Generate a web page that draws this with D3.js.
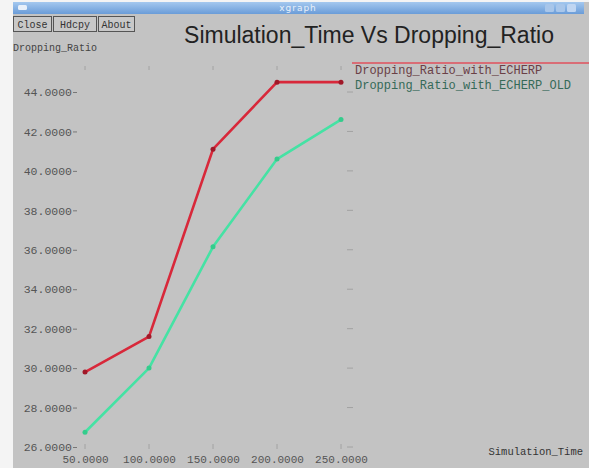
<!DOCTYPE html>
<html>
<head>
<meta charset="utf-8">
<script src="https://cdn.jsdelivr.net/npm/d3@7"></script>
<style>
  html, body { margin: 0; padding: 0; background: #f4f4f4; }
  svg { display: block; }
</style>
</head>
<body>
<script>
// Simulation time (x) and dropping ratio (y) for the two protocols
const simulationTimes = [50, 100, 150, 200, 250];
const ratioEcherp     = [29.8, 31.6, 41.1, 44.5, 44.5];
const ratioEcherpOld  = [26.75, 30.0, 36.15, 40.6, 42.6];
const seriesNames = ["Dropping_Ratio_with_ECHERP", "Dropping_Ratio_with_ECHERP_OLD"];
const seriesColors = ["#d8283a", "#45e2a4"];
const yTickValues = [26, 28, 30, 32, 34, 36, 38, 40, 42, 44];
const xTickValues = [50, 100, 150, 200, 250];
const buttonLabels = ["Close", "Hdcpy", "About"];

const W = 589, H = 468;
const MONO = "Liberation Mono";
const svg = d3.select("body").append("svg").attr("width", W).attr("height", H);

// window frame
svg.append("rect").attr("x", 13).attr("y", 2).attr("width", W - 13).attr("height", H - 2)
  .attr("fill", "#c3c3c3");
const grad = svg.append("defs").append("linearGradient").attr("id", "tb")
  .attr("x1", 0).attr("y1", 0).attr("x2", 0).attr("y2", 1);
grad.append("stop").attr("offset", 0).attr("stop-color", "#a4c8ef");
grad.append("stop").attr("offset", 1).attr("stop-color", "#6a9cd8");
svg.append("rect").attr("x", 13).attr("y", 2).attr("width", 571).attr("height", 12)
  .attr("fill", "url(#tb)");
svg.append("text").attr("x", 298).attr("y", 11).attr("text-anchor", "middle")
  .attr("font-family", "DejaVu Sans").attr("font-size", 9).attr("letter-spacing", 1)
  .attr("fill", "#e8f0fa").text("xgraph");
svg.append("rect").attr("x", 18).attr("y", 5).attr("width", 9).attr("height", 5).attr("rx", 1.5)
  .attr("fill", "#e8f0fa");
[549, 560, 571].forEach((bx, i) => {
  svg.append("rect").attr("x", bx - 4).attr("y", 4).attr("width", 9).attr("height", 8).attr("rx", 1.5)
    .attr("fill", i === 2 ? "#c0d6f2" : "#a8c6ea");
});

// buttons
const btnX = [13, 53, 98], btnW = [38, 43, 36];
buttonLabels.forEach((b, i) => {
  svg.append("rect").attr("x", btnX[i] + 0.5).attr("y", 16.5).attr("width", btnW[i]).attr("height", 15)
    .attr("fill", "#c8c8c8").attr("stroke", "#555").attr("stroke-width", 1);
  svg.append("text").attr("x", btnX[i] + btnW[i] / 2 + 0.5).attr("y", 28)
    .attr("text-anchor", "middle").attr("font-family", MONO).attr("font-size", 10)
    .attr("fill", "#333").text(b);
});

// title and axis names
svg.append("text").attr("x", 369).attr("y", 43).attr("text-anchor", "middle")
  .attr("font-family", "Liberation Sans").attr("font-size", 23).attr("fill", "#222")
  .text("Simulation_Time Vs Dropping_Ratio");
svg.append("text").attr("x", 13).attr("y", 51)
  .attr("font-family", MONO).attr("font-size", 10).attr("fill", "#444")
  .text("Dropping_Ratio");
svg.append("text").attr("x", 583).attr("y", 455).attr("text-anchor", "end")
  .attr("font-family", MONO).attr("font-size", 10.5).attr("fill", "#333")
  .text("Simulation_Time");

// scales
const x = d3.scaleLinear().domain([50, 250]).range([85, 341]);
const y = d3.scaleLinear().domain([26, 44]).range([447, 92]);

// y axis: labels with a trailing dash
const yAxis = svg.append("g").attr("transform", "translate(77,0)")
  .call(d3.axisLeft(y).tickValues(yTickValues).tickSize(4).tickPadding(1)
    .tickFormat(d3.format(".4f")));
yAxis.select(".domain").remove();
yAxis.selectAll("line").attr("stroke", "#777");
yAxis.selectAll("text").attr("font-family", MONO).attr("font-size", 11.5)
  .attr("fill", "#555");

// x axis labels
const xAxis = svg.append("g").attr("transform", "translate(0,453)")
  .call(d3.axisBottom(x).tickValues(xTickValues).tickSize(0).tickPadding(2)
    .tickFormat(d3.format(".4f")));
xAxis.select(".domain").remove();
xAxis.selectAll("text").attr("font-family", MONO).attr("font-size", 11)
  .attr("fill", "#555");

// faint tick marks along the top, bottom and right edge of the plot
svg.append("g").selectAll("line").data(xTickValues).join("line")
  .attr("x1", d => x(d)).attr("x2", d => x(d)).attr("y1", 66).attr("y2", 70)
  .attr("stroke", "#a2a2a2").attr("stroke-width", 1);
svg.append("g").selectAll("line").data(xTickValues).join("line")
  .attr("x1", d => x(d)).attr("x2", d => x(d)).attr("y1", 444).attr("y2", 449)
  .attr("stroke", "#a2a2a2").attr("stroke-width", 1);
svg.append("g").selectAll("line").data(yTickValues).join("line")
  .attr("x1", 347).attr("x2", 353).attr("y1", d => y(d)).attr("y2", d => y(d))
  .attr("stroke", "#a2a2a2").attr("stroke-width", 1);

// series lines and markers
const series = [ratioEcherp, ratioEcherpOld];
const line = d3.line().x((d, i) => x(simulationTimes[i])).y(d => y(d));
series.forEach((vals, s) => {
  svg.append("path").datum(vals).attr("d", line).attr("fill", "none")
    .attr("stroke", seriesColors[s]).attr("stroke-width", 2.6).attr("stroke-linejoin", "round");
  svg.append("g").selectAll("circle").data(vals).join("circle")
    .attr("cx", (d, i) => x(simulationTimes[i])).attr("cy", d => y(d)).attr("r", 2.5)
    .attr("fill", s === 0 ? "#a01828" : "#34cc8c");
});

// legend
svg.append("line").attr("x1", 352).attr("x2", 589).attr("y1", 63).attr("y2", 63)
  .attr("stroke", "#e0505c").attr("stroke-width", 1.5);
seriesNames.forEach((n, i) => {
  svg.append("text").attr("x", 355).attr("y", 74 + i * 15)
    .attr("font-family", MONO).attr("font-size", 12)
    .attr("fill", i === 0 ? "#6a4046" : "#356a58").text(n);
});
</script>
</body>
</html>
